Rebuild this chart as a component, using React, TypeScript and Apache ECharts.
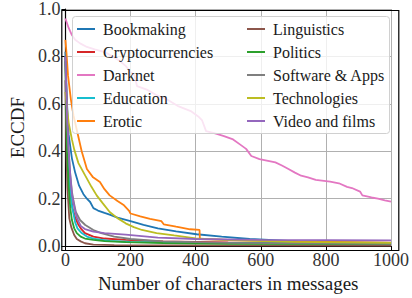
import React, { useEffect, useRef } from "react";
import * as echarts from "echarts";

const seriesNames = [
  "Bookmaking", "Cryptocurrencies", "Darknet", "Education", "Erotic",
  "Linguistics", "Politics", "Software & Apps", "Technologies", "Video and films",
];
const colors = [
  "#1f77b4", "#d62728", "#e377c2", "#17becf", "#ff7f0e",
  "#8c564b", "#2ca02c", "#7f7f7f", "#bcbd22", "#9467bd",
];

const bookmaking = [[0,0.82],[5,0.6],[10,0.47],[20,0.37],[30,0.31],[42,0.255],[55,0.22],[66,0.2],[76,0.186],[86,0.16],[100,0.15],[120,0.14],[136,0.133],[160,0.12],[200,0.105],[240,0.09],[284,0.075],[340,0.062],[403,0.05],[480,0.04],[566,0.03],[640,0.025],[714,0.02],[800,0.017],[900,0.015],[1000,0.013]];
const crypto = [[0,0.8],[5,0.5],[10,0.33],[15,0.23],[22,0.16],[30,0.12],[40,0.09],[47,0.075],[60,0.055],[86,0.04],[120,0.032],[185,0.026],[300,0.02],[500,0.016],[700,0.014],[1000,0.012]];
const darknet = [[0,0.96],[10,0.92],[20,0.89],[30,0.87],[45,0.855],[66,0.84],[90,0.83],[121,0.818],[145,0.8],[165,0.783],[185,0.76],[200,0.735],[212,0.72],[220,0.675],[250,0.66],[279,0.637],[310,0.62],[348,0.589],[387,0.568],[408,0.547],[420,0.53],[432,0.485],[460,0.475],[487,0.464],[515,0.45],[536,0.429],[555,0.41],[571,0.38],[596,0.367],[645,0.353],[665,0.34],[685,0.325],[705,0.31],[724,0.297],[745,0.29],[769,0.279],[813,0.272],[840,0.265],[865,0.25],[880,0.245],[905,0.23],[912,0.214],[940,0.205],[960,0.2],[981,0.193],[1000,0.188]];
const education = [[0,0.8],[5,0.45],[10,0.3],[20,0.17],[30,0.1],[37,0.075],[50,0.055],[66,0.04],[90,0.03],[136,0.022],[200,0.018],[400,0.014],[700,0.012],[1000,0.01]];
const erotic = [[0,0.87],[3,0.82],[8,0.72],[17,0.617],[25,0.55],[37,0.478],[50,0.4],[66,0.325],[85,0.29],[106,0.27],[120,0.24],[136,0.214],[160,0.19],[180,0.172],[195,0.15],[200,0.1375],[230,0.125],[260,0.115],[295,0.105],[302,0.092],[340,0.082],[383,0.071],[412,0.068],[413,0.03],[500,0.026],[700,0.02],[1000,0.015]];
const linguistics = [[0,0.7],[3,0.4],[6,0.25],[10,0.16],[12,0.117],[18,0.08],[27,0.047],[35,0.03],[47,0.02],[60,0.012],[86,0.006],[150,0.004],[400,0.003],[1000,0.002]];
const politics = [[0,0.78],[5,0.4],[10,0.25],[15,0.16],[20,0.11],[27,0.075],[35,0.055],[47,0.04],[60,0.032],[86,0.026],[120,0.021],[185,0.017],[300,0.013],[500,0.01],[1000,0.008]];
const software = [[0,0.8],[5,0.55],[10,0.4],[15,0.3],[20,0.23],[25,0.19],[32,0.144],[45,0.11],[61,0.089],[86,0.068],[110,0.055],[150,0.04],[200,0.03],[300,0.02],[500,0.014],[1000,0.009]];
const technologies = [[0,0.65],[5,0.58],[10,0.52],[20,0.45],[27,0.408],[40,0.35],[61,0.297],[80,0.25],[96,0.214],[115,0.18],[136,0.144],[160,0.118],[185,0.096],[210,0.08],[235,0.068],[280,0.055],[334,0.045],[400,0.033],[500,0.025],[700,0.018],[1000,0.014]];
const video = [[0,0.8],[5,0.55],[10,0.4],[15,0.3],[20,0.22],[28,0.16],[35,0.12],[47,0.085],[60,0.072],[86,0.061],[120,0.055],[185,0.048],[284,0.036],[400,0.03],[600,0.026],[800,0.025],[1000,0.024]];

const allData = [bookmaking, crypto, darknet, education, erotic, linguistics, politics, software, technologies, video];

const FONT = "Liberation Serif";

export default function App() {
  const ref = useRef<HTMLDivElement>(null);
  useEffect(() => {
    if (!ref.current) return;
    const chart = echarts.init(ref.current, undefined, { renderer: "svg" });
    const legendText = { fontFamily: FONT, fontSize: 16, color: "#1a1a1a", padding: [0, 0, 0, 3] };
    const legendCommon = {
      orient: "vertical", top: 19, itemGap: 7, itemWidth: 18, itemHeight: 2,
      icon: "rect", textStyle: legendText, padding: [2, 5], z: 5,
    };
    chart.setOption({
      animation: false,
      grid: { left: 59.3, right: 15.7, top: 8, bottom: 50, containLabel: false },
      xAxis: {
        type: "value", min: 0, max: 1000, interval: 200,
        name: "Number of characters in messages", nameLocation: "middle", nameGap: 26,
        nameTextStyle: { fontFamily: FONT, fontSize: 19, color: "#1a1a1a" },
        axisLine: { show: true, onZero: false, lineStyle: { color: "#000", width: 1.2 } },
        axisTick: { show: true, length: 4, lineStyle: { color: "#000" } },
        axisLabel: { fontFamily: FONT, fontSize: 18, color: "#333", margin: 5, formatter: (v: number) => String(v) },
        splitLine: { show: true, lineStyle: { color: "#b0b0b0", width: 1 } },
      },
      yAxis: {
        type: "value", min: 0, max: 1, interval: 0.2,
        name: "ECCDF", nameLocation: "middle", nameGap: 37,
        nameTextStyle: { fontFamily: FONT, fontSize: 19, color: "#1a1a1a" },
        axisLine: { show: true, lineStyle: { color: "#000", width: 1.2 } },
        axisTick: { show: true, length: 4, lineStyle: { color: "#000" } },
        axisLabel: { fontFamily: FONT, fontSize: 18, color: "#333", margin: 5, formatter: (v: number) => v.toFixed(1) },
        splitLine: { show: true, lineStyle: { color: "#b0b0b0", width: 1 } },
      },
      graphic: [
        { type: "rect", left: 59.3, top: 8, shape: { width: 337, height: 240 }, style: { fill: "none", stroke: "#000", lineWidth: 1.2 }, z: 10, silent: true },
        { type: "rect", left: 72, top: 16, shape: { width: 317, height: 117, r: 3 }, style: { fill: "rgba(255,255,255,0.8)", stroke: "#d0d0d0", lineWidth: 1 }, z: 3, silent: true },
      ],
      legend: [
        { ...legendCommon, left: 72, data: seriesNames.slice(0, 5) },
        { ...legendCommon, left: 242, data: seriesNames.slice(5) },
      ],
      series: seriesNames.map((n, i) => ({
        name: n, type: "line", data: allData[i], symbol: "none", showSymbol: false,
        lineStyle: { color: colors[i], width: 1.8 }, itemStyle: { color: colors[i] },
        z: 2,
      })),
    });
    return () => chart.dispose();
  }, []);
  return <div ref={ref} style={{ width: 412, height: 298, position: "absolute", left: 0, top: 0 }} />;
}
